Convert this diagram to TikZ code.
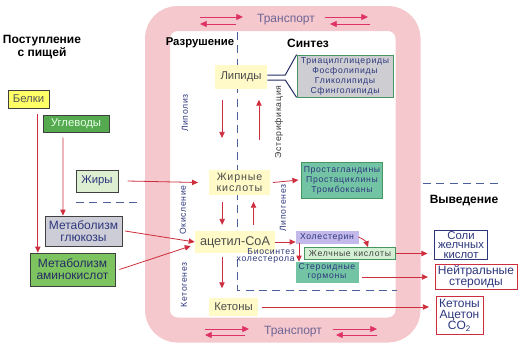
\documentclass[tikz,border=0pt]{standalone}
\usepackage{fontspec}
\setmainfont{Liberation Sans}
\newfontfamily\spfont{Liberation Sans}[LetterSpace=8]
\usetikzlibrary{arrows.meta}
\definecolor{figP}{RGB}{244,200,204}
\definecolor{figM}{RGB}{222,50,100}
\definecolor{figR}{RGB}{205,45,60}
\definecolor{figN}{RGB}{45,55,125}
\definecolor{figD}{RGB}{75,95,155}
\definecolor{figTr}{RGB}{110,100,150}
\definecolor{figY}{RGB}{255,250,200}
\definecolor{figG}{RGB}{70,150,95}
\definecolor{figT}{RGB}{115,195,165}
\definecolor{figBy}{RGB}{255,255,102}
\definecolor{figUg}{RGB}{85,170,80}
\definecolor{figZh}{RGB}{222,238,208}
\definecolor{figGl}{RGB}{205,205,215}
\definecolor{figAm}{RGB}{125,195,95}
\definecolor{figGr}{RGB}{205,205,210}
\definecolor{figCh}{RGB}{195,185,235}
\definecolor{figZk}{RGB}{212,240,212}

\begin{document}
\begin{tikzpicture}[x=0.75pt,y=-0.75pt,>={Triangle[length=4.5pt,width=4pt]},
  inbox/.style={draw=black!75,line width=0.6pt,inner sep=1pt,align=center,font=\fontsize{8.5}{8.5}\selectfont},
  mid/.style={fill=figY,inner sep=1pt,align=center,text=black!70,font=\fontsize{8.5}{8.5}\selectfont},
  syn/.style={draw=figG,line width=0.6pt,inner sep=1pt,align=center,text=figN,font=\spfont\fontsize{6.5}{7.5}\selectfont},
  outbox/.style={fill=white,line width=0.6pt,inner sep=1pt,align=center,text=figN,font=\fontsize{8.5}{7}\selectfont},
  vlab/.style={rotate=90,text=figN,font=\spfont\fontsize{6.5}{7}\selectfont},
  head/.style={font=\bfseries\fontsize{9}{10}\selectfont,align=center},
  rarr/.style={->,figR,line width=0.6pt},
  tarr/.style={-{Triangle[length=5pt,width=4.5pt]},figM,line width=0.6pt},
  dsh/.style={figD,line width=0.75pt,dash pattern=on 6pt off 4pt}]
\useasboundingbox (0,0) rectangle (527,354);
% transport band
\draw[figP,line width=18.75pt,rounded corners=15pt] (157.5,18.5) rectangle (408,330);
\node[text=figTr,font=\fontsize{9}{9}\selectfont] (trtop) at (286,20) {Транспорт};
\node[text=figTr,font=\fontsize{9}{9}\selectfont] (trbot) at (293,332) {Транспорт};
\draw[tarr] (200,17)--(243,17); \draw[tarr] (236,24)--(200,24);
\draw[tarr] (325,17)--(368,17); \draw[tarr] (370,24)--(330,24);
\draw[tarr] (205,329)--(249,329); \draw[tarr] (245,335)--(205,335);
\draw[tarr] (333,329)--(377,329); \draw[tarr] (377,335)--(336,335);
% dashed borders
\draw[dsh] (237,32)--(237,290)--(397,290);
\draw[dsh] (76,202)--(140,202);
\draw[dsh] (423,183)--(503,183);
% headings
\node[head] (post) at (42,47) {Поступление\\с пищей};
\node[head,font=\bfseries\fontsize{8.5}{10}\selectfont] (razr) at (200,43) {Разрушение};
\node[head] (sint) at (308,43) {Синтез};
\node[head] (vyv) at (464,201) {Выведение};
% intake
\node[inbox,fill=figBy,text=black!65,minimum width=30.75pt,minimum height=13.5pt] (belki) at (28.5,99) {Белки};
\node[inbox,fill=figUg,text=green!10!white,minimum width=49.5pt,minimum height=12.75pt] (uglev) at (76,123.5) {Углеводы};
\node[inbox,fill=figZh,text=figN,minimum width=31.5pt,minimum height=16.5pt] (zhiry) at (97,181) {Жиры};
\node[inbox,fill=figGl,text=figN,minimum width=57.75pt,minimum height=22.5pt,font=\fontsize{9}{9}\selectfont] (glyuk) at (83.5,231) {Метаболизм\\глюкозы};
\node[inbox,fill=figAm,text=figN!80!black,minimum width=63.75pt,minimum height=24.75pt,font=\fontsize{9}{9}\selectfont] (amino) at (72.5,269.5) {Метаболизм\\аминокислот};
% breakdown chain
\node[mid,minimum width=39pt,minimum height=18pt] (lipidy) at (241,77) {Липиды};
\node[mid,minimum width=45.75pt,minimum height=18.75pt,font=\spfont\fontsize{8}{8}\selectfont] (zhk) at (239.5,182.5) {Жирные\\кислоты};
\node[mid,minimum width=60pt,minimum height=16.5pt,font=\fontsize{9.5}{9.5}\selectfont] (acetyl) at (235,242) {ацетил-СоА};
\node[mid,minimum width=36.75pt,minimum height=13.5pt] (ketony) at (233.5,307) {Кетоны};
\node[vlab] (lipoliz) at (185,113) {Липолиз};
\node[vlab,text=black!80] (ester) at (279,122) {Эстерификация};
\node[vlab] (okisl) at (183,210) {Окисление};
\node[vlab] (ketog) at (184,285) {Кетогенез};
\node[vlab] (lipog) at (283,208) {Липогенез};
% synthesis
\node[syn,fill=figGr,minimum width=72pt,minimum height=31.5pt] (tag) at (345,76) {Триацилглицериды\\Фосфолипиды\\Гликолипиды\\Сфинголипиды};
\node[syn,fill=figT,minimum width=60.75pt,minimum height=27pt] (prost) at (342,180) {Простагландины\\Простациклины\\Тромбоксаны};
\node[syn,fill=figCh,draw=figCh,minimum width=46.5pt,minimum height=9pt] (chol) at (327,237) {Холестерин};
\node[syn,fill=figZk,text=black!75,minimum width=68.25pt,minimum height=9pt] (zhelch) at (350,253.5) {Желчные кислоты};
\node[syn,fill=figT,draw=figT,minimum width=46.5pt,minimum height=15pt,font=\spfont\fontsize{6.5}{6.5}\selectfont] (steroid) at (327,272) {Стероидные\\гормоны};
\node[text=figN,font=\spfont\fontsize{6.5}{5.5}\selectfont,align=right,inner sep=0pt,anchor=east] (biosint) at (295,256) {Биосинтез\\холестерола};
% excretion
\node[outbox,draw=figN,minimum width=39.75pt,minimum height=21pt] (soli) at (461,245) {Соли\\желчных\\кислот};
\node[outbox,draw=figR,minimum width=61.5pt,minimum height=16.5pt,font=\fontsize{9}{8}\selectfont] (neutr) at (476,277) {Нейтральные\\стероиды};
\node[outbox,draw=figR,minimum width=35.25pt,minimum height=28.5pt,font=\fontsize{9}{8.5}\selectfont] (ketout) at (459.5,315) {Кетоны\\Ацетон\\CO\textsubscript{2}};
% connectors
\draw[rarr] ([xshift=7pt,yshift=-4pt]belki.south) -- ([xshift=-26pt]amino.north);
\draw[rarr] ([xshift=-9.75pt,yshift=-4pt]uglev.south) -- ([xshift=-15.4pt]glyuk.north);
\draw[rarr] ([xshift=7pt]zhiry.east) -- ([xshift=-8pt]zhk.west);
\draw[rarr] ([xshift=2pt]glyuk.east) -- (acetyl.west);
\draw[rarr] ([xshift=3pt]amino.east) -- ([xshift=-3pt,yshift=-3pt]acetyl.west);
\draw[rarr] ([xshift=-14.25pt,yshift=-8pt]lipidy.south) -- ++(0,38);
\draw[rarr] ([xshift=14.6pt,yshift=22.5pt]zhk.north) -- ++(0,-40);
\draw[rarr] ([xshift=-13pt,yshift=-5pt]zhk.south) -- ++(0,23);
\draw[rarr] ([xshift=13.9pt,yshift=4.5pt]acetyl.north) -- ++(0,-23);
\draw[rarr] ([xshift=-9.75pt,yshift=-3pt]acetyl.south) -- ++(0,31);
\draw[figN!80!black,line width=0.75pt] ([yshift=1.5pt]lipidy.east) -- ++(18,0) -- (tag.north west);
\draw[figN!80!black,line width=0.75pt] ([yshift=-2.25pt]lipidy.east) -- ++(18,0) -- (tag.south west);
\draw[rarr] ([xshift=2pt]zhk.east) -- ([xshift=-2pt]prost.west);
\draw[rarr] (acetyl.east) -- (acetyl.east -| chol.west);
\draw[rarr] (chol.east) to[bend left=25] ([xshift=13.5pt]zhelch.north);
\draw[rarr] ([xshift=-21pt]chol.south) -- ([xshift=-21pt]steroid.north);
\draw[rarr,shorten >=5pt] (zhelch.east) -- (zhelch.east -| soli.west);
\draw[rarr,shorten >=5pt] ([xshift=3pt]steroid.east |- neutr.west) -- (neutr.west);
\draw[rarr,shorten >=5pt] ([xshift=3pt]ketony.east) -- (ketony.east -| ketout.west);
\end{tikzpicture}
\end{document}
